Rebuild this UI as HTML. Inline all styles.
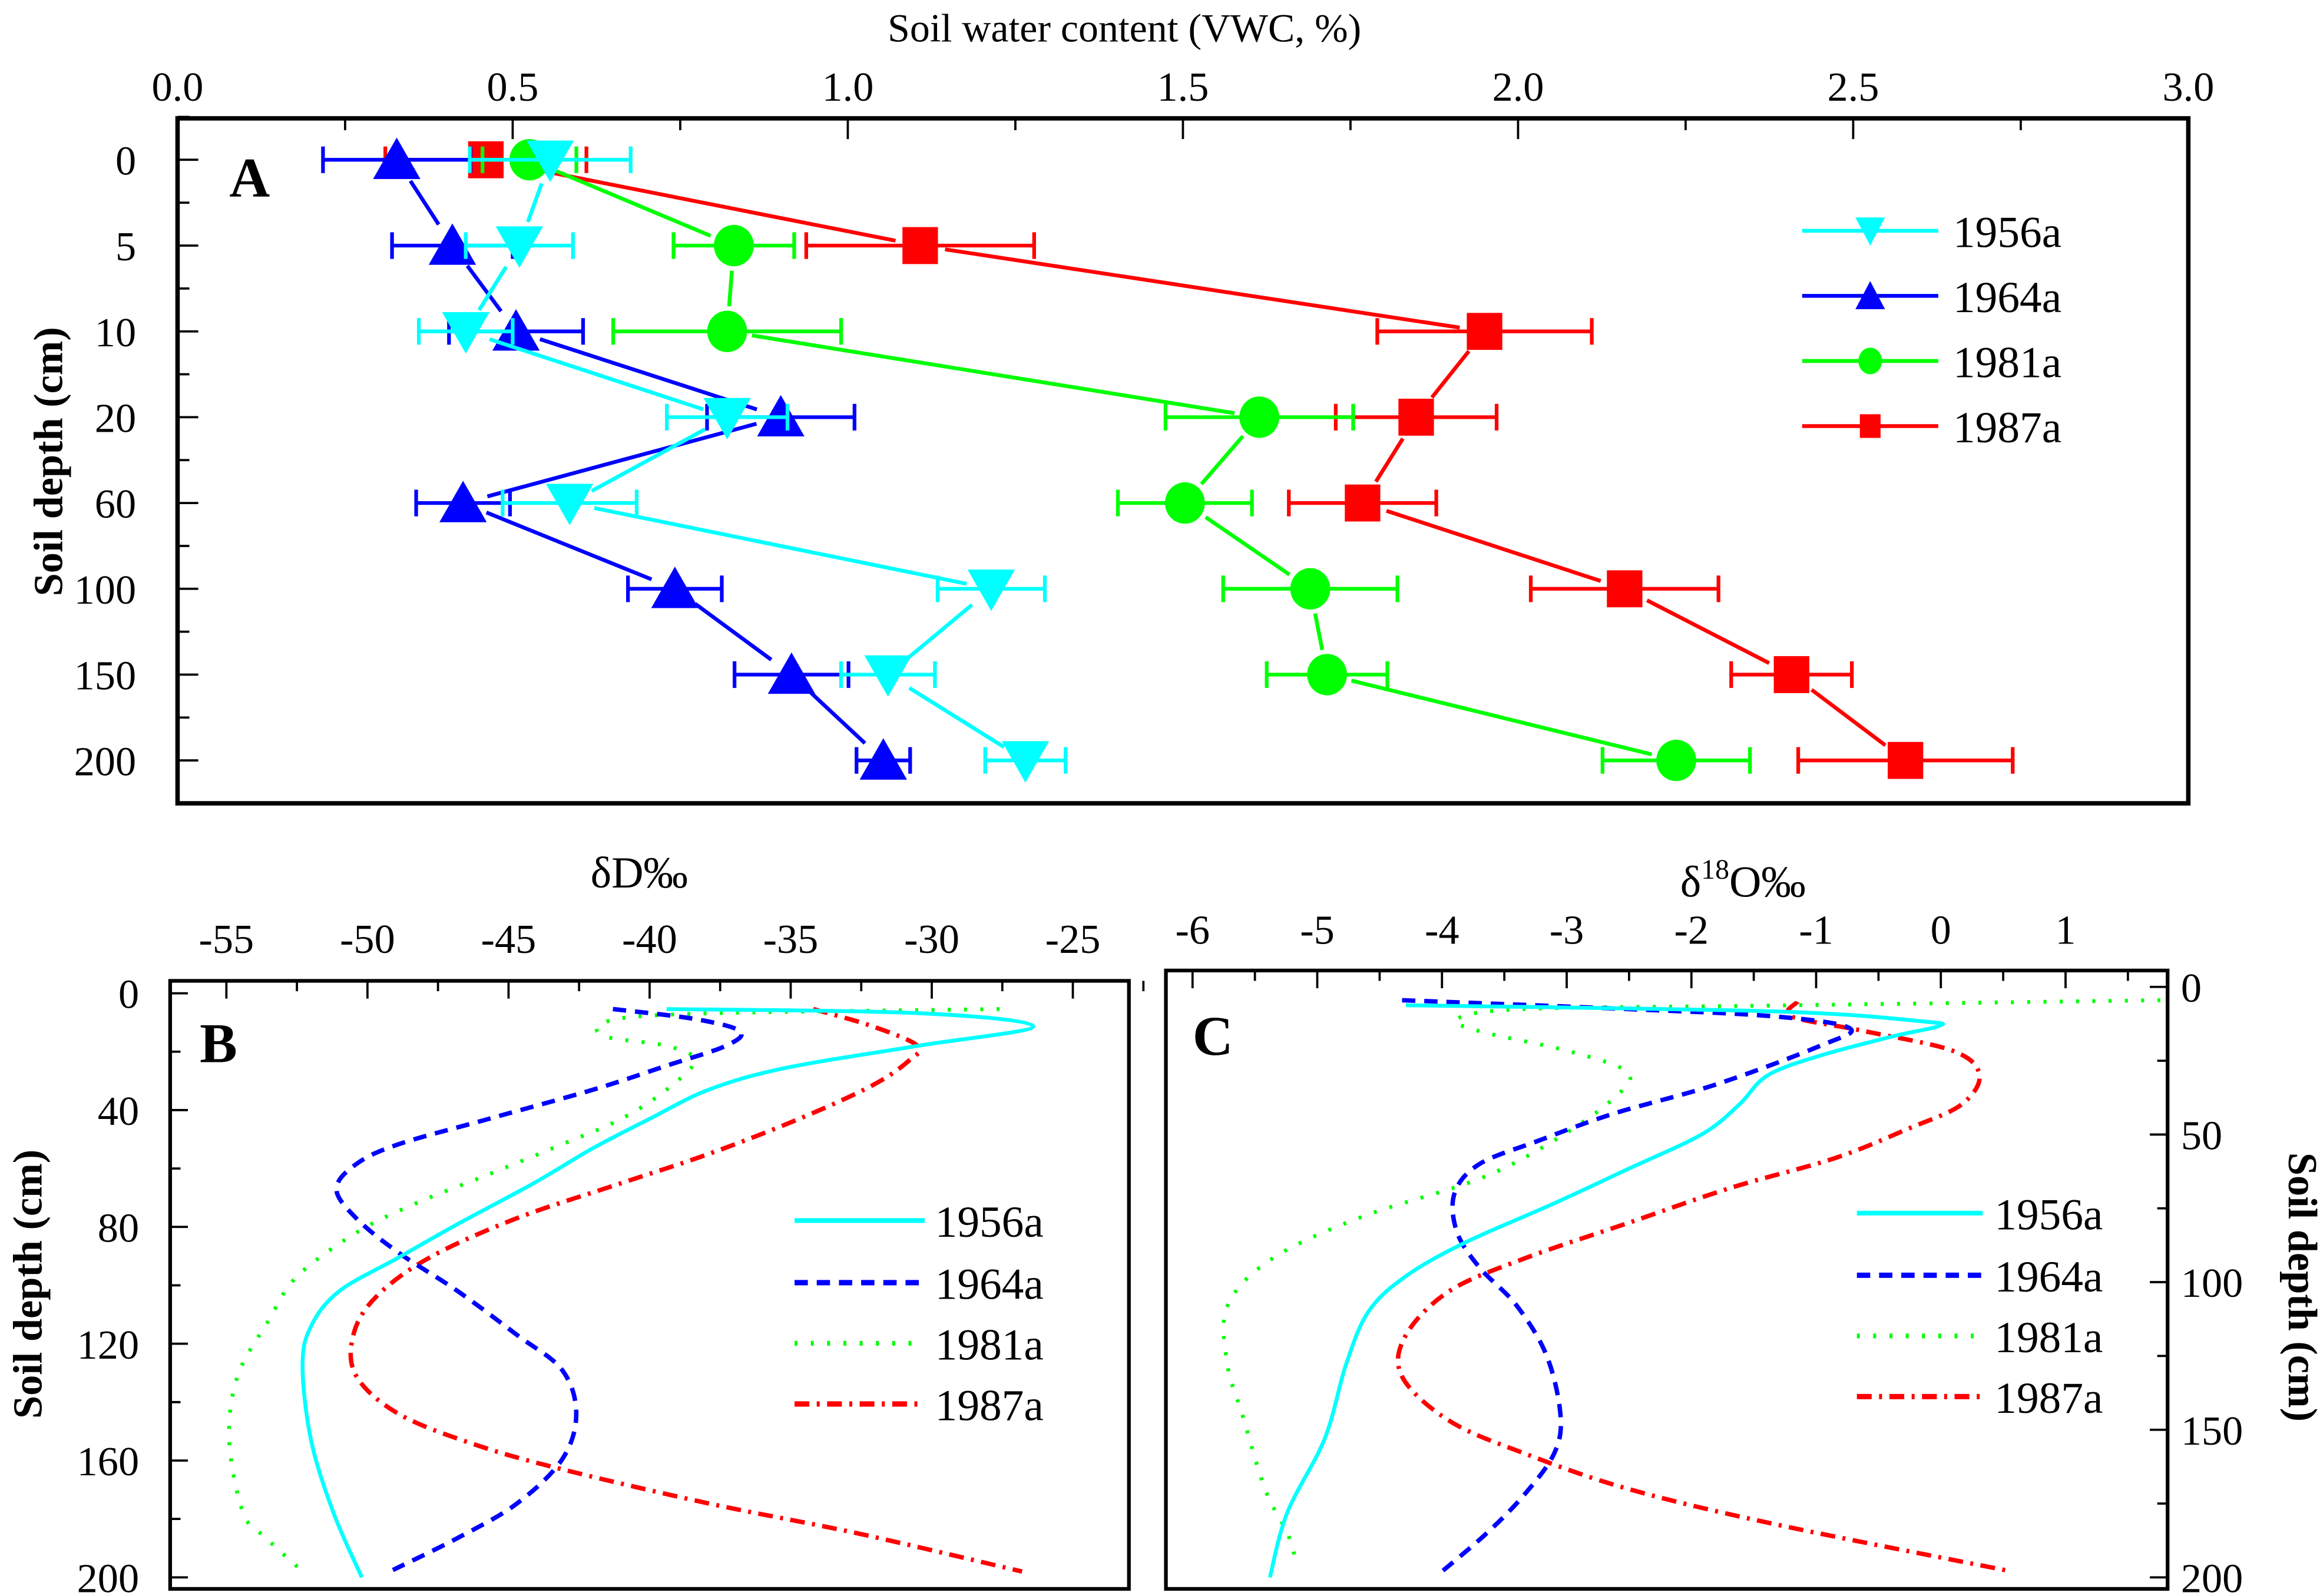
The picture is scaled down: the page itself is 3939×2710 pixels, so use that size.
<!DOCTYPE html>
<html><head><meta charset="utf-8"><style>
html,body{margin:0;padding:0;background:#fff;}
svg{display:block;}
text{font-family:"Liberation Serif",serif;fill:#000;}
</style></head><body>
<svg id="fig" width="3939" height="2710" viewBox="0 0 1568 1078.8" preserveAspectRatio="none" xmlns="http://www.w3.org/2000/svg">
</svg>
<script>
// ---------- Panel A data ----------
const depthCats = ["0","5","10","20","60","100","150","200"];
const vwc1956 = [0.556,0.51,0.43,0.82,0.585,1.214,1.06,1.265];
const err1956 = [0.12,0.08,0.07,0.09,0.1,0.08,0.07,0.06];
const vwc1964 = [0.327,0.41,0.505,0.90,0.426,0.742,0.916,1.053];
const err1964 = [0.11,0.09,0.1,0.11,0.07,0.07,0.085,0.04];
const vwc1981 = [0.525,0.83,0.82,1.614,1.503,1.69,1.715,2.236];
const err1981 = [0.07,0.09,0.17,0.14,0.1,0.13,0.09,0.11];
const vwc1987 = [0.46,1.108,1.95,1.848,1.768,2.159,2.408,2.578];
const err1987 = [0.15,0.17,0.16,0.12,0.11,0.14,0.09,0.16];
const aTicks = ["0.0","0.5","1.0","1.5","2.0","2.5","3.0"];
// ---------- Panel B data (dD, depth cm) ----------
const bDepth1956 = [5.4,6.8,11.3,18,25.6,33,43,53,65,79,90.5,102,114,127.5,153,178,200];
const bVal1956 = [-39.4,-30.5,-26.4,-30.5,-35.2,-37.9,-40,-42,-44.1,-46.8,-48.9,-51,-52,-52.3,-52,-51.2,-50.2];
const bDepth1964 = [5.4,8.8,13,18,24.8,33,43,51.7,58.5,67,77,88.8,102,117,129,144,159.6,174.7,186.5,197.5];
const bVal1964 = [-41.3,-38.4,-36.8,-37.3,-39.4,-42,-45.7,-48.9,-50.4,-51.1,-50.4,-48.9,-46.8,-44.7,-43.1,-42.6,-43.1,-44.7,-46.8,-49.1];
const bDepth1981 = [5.4,7,9.6,14.7,18,23,33,43,51.7,62,72,82,97,112,131,153,178,186.5,198];
const bVal1981 = [-27.6,-38.4,-41.5,-41.6,-39.4,-38.4,-39.4,-41,-43.1,-45.7,-48.3,-50.4,-52.5,-53.5,-54.6,-54.9,-54.4,-53.6,-52.3];
const bDepth1987 = [5.4,11.3,18,23,31.5,43,55,65,77,90.5,104,117,131,144,154.5,163,174.7,185,198];
const bVal1987 = [-34.2,-32.1,-30.5,-30.8,-32.1,-34.7,-37.9,-41,-44.7,-47.8,-49.7,-50.5,-50.4,-48.9,-46.2,-43.1,-37.9,-32.6,-26.8];
const bXTicks = ["-55","-50","-45","-40","-35","-30","-25"];
const bYTicks = ["0","40","80","120","160","200"];
// ---------- Panel C data (d18O, depth cm) ----------
const cDepth1956 = [6.2,8.3,11.7,13.3,16.7,23.3,30,40,50,61.7,73.3,86.7,98,110,128,153,178,200];
const cVal1956 = [-4.29,-1.33,-0.14,-0.02,-0.38,-0.97,-1.39,-1.62,-1.92,-2.51,-3.1,-3.82,-4.29,-4.59,-4.77,-4.94,-5.24,-5.38];
const cDepth1964 = [4.5,7.5,10,14,20,33,43,52,60,70,83,95,108,125,145,158,172,185,198];
const cVal1964 = [-4.32,-2.51,-1.33,-0.73,-0.97,-1.8,-2.63,-3.22,-3.7,-3.9,-3.88,-3.7,-3.4,-3.16,-3.05,-3.1,-3.34,-3.64,-4.0];
const cDepth1981 = [4.5,6.3,7.5,10.8,15,21.7,29,38,52,65,78,92,108,128,145,170,185,193];
const cVal1981 = [1.76,-1.33,-3.34,-3.88,-3.7,-2.99,-2.51,-2.63,-3.1,-3.7,-4.65,-5.36,-5.72,-5.72,-5.6,-5.42,-5.24,-5.18];
const cDepth1987 = [5,10,15,21.7,30,40,48,58,68,80,92,103,118,132,147,158,170,182,198];
const cVal1987 = [-1.15,-1.2,-0.61,0.1,0.31,0.16,-0.26,-0.85,-1.68,-2.51,-3.34,-3.94,-4.29,-4.32,-3.94,-3.34,-2.51,-1.33,0.57];
const cXTicks = ["-6","-5","-4","-3","-2","-1","0","1"];
const cYTicks = ["0","50","100","150","200"];

const NS="http://www.w3.org/2000/svg";
const svg=document.getElementById('fig');
function mk(tag,attrs,parent,txt){const e=document.createElementNS(NS,tag);for(const k in attrs)e.setAttribute(k,attrs[k]);if(txt!==undefined)e.textContent=txt;(parent||svg).appendChild(e);return e;}
function grp(name){const g=mk('g',{});return g;}

const CY="#00ffff",BL="#0000ff",GR="#00ff00",RD="#ff0000";
const TF=28;

// ===== Panel A =====
const A={l:120,r:1479,t:80,b:543};
const ax=v=>A.l+v*453;
const ay=i=>108+i*58;
const gA=grp('panel-a');
mk('text',{x:760,y:28,'font-size':27,'text-anchor':'middle'},gA,'Soil water content (VWC, %)');
aTicks.forEach((t,i)=>{const x=ax(parseFloat(t));const e=mk('text',{x:x,y:68,'font-size':TF,'text-anchor':'middle'},gA,t);
 mk('line',{x1:x,y1:A.t,x2:x,y2:A.t+14,stroke:'#000','stroke-width':1.5},gA);
 if(i<aTicks.length-1){const xm=ax(parseFloat(t)+0.25);mk('line',{x1:xm,y1:A.t,x2:xm,y2:A.t+8,stroke:'#000','stroke-width':1.5},gA);}
});
depthCats.forEach((c,i)=>{const y=ay(i);const e=mk('text',{x:92,y:y+10,'font-size':TF,'text-anchor':'end'},gA,c);
 mk('line',{x1:A.l,y1:y,x2:A.l+14,y2:y,stroke:'#000','stroke-width':1.5},gA);
 const ym=y+29;if(ym<A.b)mk('line',{x1:A.l,y1:ym,x2:A.l+8,y2:ym,stroke:'#000','stroke-width':1.5},gA);
 const ym2=y-29;if(i==0)mk('line',{x1:A.l,y1:ym2,x2:A.l+8,y2:ym2,stroke:'#000','stroke-width':1.5},gA);
});
const ytA=mk('text',{x:0,y:0,'font-size':28,'font-weight':'bold','text-anchor':'middle',transform:'translate(42,312) rotate(-90)','font-family':'Liberation Sans, sans-serif'},gA,'Soil depth (cm)');

mk('rect',{x:A.l,y:A.t,width:A.r-A.l,height:A.b-A.t,fill:'none',stroke:'#000','stroke-width':3},gA);
mk('text',{x:155,y:133,'font-size':38,'font-weight':'bold'},gA,'A');

function marker(g,type,x,y,col){
 let e;
 if(type==='down') e=mk('polygon',{points:`${x-16},${y-13} ${x+16},${y-13} ${x},${y+15}`,fill:col},g);
 else if(type==='up') e=mk('polygon',{points:`${x-16},${y+13} ${x+16},${y+13} ${x},${y-15}`,fill:col},g);
 else if(type==='circle') e=mk('ellipse',{cx:x,cy:y,rx:13.5,ry:14,fill:col},g);
 else e=mk('rect',{x:x-12,y:y-12.5,width:24,height:25,fill:col},g);
 return e;
}
function seriesA(name,vals,errs,col,type){
 const g=grp('series-'+name);
 vals.forEach((v,i)=>{const y=ay(i);
  const lo=ax(v-errs[i]),hi=ax(v+errs[i]);
  const eb=mk('path',{d:`M${lo},${y}H${hi}M${lo},${y-9}V${y+9}M${hi},${y-9}V${y+9}`,stroke:col,'stroke-width':2.5,fill:'none'},g);
  
  
 });
 for(let i=0;i<vals.length-1;i++){
  const x1=ax(vals[i]),y1=ay(i),x2=ax(vals[i+1]),y2=ay(i+1);
  const dx=x2-x1,dy=y2-y1,L=Math.hypot(dx,dy),gp=17;
  if(L>2*gp){const ln=mk('line',{x1:x1+dx/L*gp,y1:y1+dy/L*gp,x2:x2-dx/L*gp,y2:y2-dy/L*gp,stroke:col,'stroke-width':2.6},g);
   
   }
 }
 vals.forEach((v,i)=>{const m=marker(g,type,ax(v),ay(i),col);
  
  });
}
seriesA('1987a',vwc1987,err1987,RD,'square');
seriesA('1981a',vwc1981,err1981,GR,'circle');
seriesA('1964a',vwc1964,err1964,BL,'up');
seriesA('1956a',vwc1956,err1956,CY,'down');
// legend A
const legA=[['1956a',CY,'down'],['1964a',BL,'up'],['1981a',GR,'circle'],['1987a',RD,'square']];
const gLA=grp('legend-a');
legA.forEach((L,i)=>{const y=156+i*44;
 const le=grp('legend-entry-'+L[0]);gLA.appendChild(le);
 mk('line',{x1:1218,y1:y,x2:1310,y2:y,stroke:L[1],'stroke-width':2.6},le);
 const s=L[2];const x=1264;
 if(s==='down')mk('polygon',{points:`${x-10},${y-9} ${x+10},${y-9} ${x},${y+10}`,fill:L[1]},le);
 else if(s==='up')mk('polygon',{points:`${x-10},${y+9} ${x+10},${y+9} ${x},${y-10}`,fill:L[1]},le);
 else if(s==='circle')mk('ellipse',{cx:x,cy:y,rx:8,ry:9,fill:L[1]},le);
 else mk('rect',{x:x-7,y:y-8,width:14,height:16,fill:L[1]},le);
 mk('text',{x:1320,y:y+11,'font-size':30},le,L[0]);
});

// ===== Panels B & C =====
function drawLine(g,name,vals,depths,fx,fy,col,dash,w){
 const pts=vals.map((v,i)=>[fx(v),fy(depths[i])]);
 let d=`M${pts[0][0]},${pts[0][1]}`;
 for(let i=0;i<pts.length-1;i++){
  const p0=pts[Math.max(0,i-1)],p1=pts[i],p2=pts[i+1],p3=pts[Math.min(pts.length-1,i+2)];
  const c1=[p1[0]+(p2[0]-p0[0])/6,p1[1]+(p2[1]-p0[1])/6];
  const c2=[p2[0]-(p3[0]-p1[0])/6,p2[1]-(p3[1]-p1[1])/6];
  d+=`C${c1[0]},${c1[1]} ${c2[0]},${c2[1]} ${p2[0]},${p2[1]}`;
 }
 const p=mk('path',{d:d,fill:'none',stroke:col,'stroke-width':w,'stroke-dasharray':dash},g);
 
 
}
const DASH={'1956a':'none','1964a':'9,6','1981a':'2,9','1987a':'10,5,2,5'};
const WID={'1956a':2.6,'1964a':3,'1981a':2.6,'1987a':3};

// B
const B={l:115,r:763,t:663,b:1074};
const bx=v=>153+(v+55)*19.07;
const by=d=>671.4+d*1.974;
const gB=grp('panel-b');
mk('text',{x:432,y:600,'font-size':30,'text-anchor':'middle'},gB,'δD‰');
bXTicks.forEach((t,i)=>{const x=bx(parseFloat(t));const e=mk('text',{x:x,y:644,'font-size':TF,'text-anchor':'middle'},gB,t);
 mk('line',{x1:x,y1:B.t,x2:x,y2:B.t+12,stroke:'#000','stroke-width':1.5},gB);
 const xm=bx(parseFloat(t)-2.5);if(xm>B.l)mk('line',{x1:xm,y1:B.t,x2:xm,y2:B.t+7,stroke:'#000','stroke-width':1.5},gB);
 if(i==bXTicks.length-1){const xm2=bx(parseFloat(t)+2.5);mk('line',{x1:xm2,y1:B.t,x2:xm2,y2:B.t+7,stroke:'#000','stroke-width':1.5},gB);}
});
bYTicks.forEach((t,i)=>{const y=by(parseFloat(t));const e=mk('text',{x:94,y:y+10,'font-size':TF,'text-anchor':'end'},gB,t);
 mk('line',{x1:B.l,y1:y,x2:B.l+12,y2:y,stroke:'#000','stroke-width':1.5},gB);
 if(i<bYTicks.length-1){const ym=by(parseFloat(t)+20);mk('line',{x1:B.l,y1:ym,x2:B.l+7,y2:ym,stroke:'#000','stroke-width':1.5},gB);}
});
mk('text',{x:0,y:0,'font-size':28,'font-weight':'bold','text-anchor':'middle',transform:'translate(28,868) rotate(-90)','font-family':'Liberation Sans, sans-serif'},gB,'Soil depth (cm)');
drawLine(gB,'b-1987a',bVal1987,bDepth1987,bx,by,RD,DASH['1987a'],WID['1987a']);
drawLine(gB,'b-1981a',bVal1981,bDepth1981,bx,by,GR,DASH['1981a'],WID['1981a']);
drawLine(gB,'b-1964a',bVal1964,bDepth1964,bx,by,BL,DASH['1964a'],WID['1964a']);
drawLine(gB,'b-1956a',bVal1956,bDepth1956,bx,by,CY,DASH['1956a'],WID['1956a']);
mk('rect',{x:B.l,y:B.t,width:B.r-B.l,height:B.b-B.t,fill:'none',stroke:'#000','stroke-width':2.5},gB);
mk('text',{x:135,y:718,'font-size':38,'font-weight':'bold'},gB,'B');

// C
const C={l:788,r:1465,t:656,b:1074};
const cx=v=>806+(v+6)*84.29;
const cy=d=>667.1+d*1.9955;
const gC=grp('panel-c');
const tc=mk('text',{x:1178,y:606,'font-size':30,'text-anchor':'middle'},gC);

mk('tspan',{},tc,'δ');mk('tspan',{dy:-12,'font-size':19},tc,'18');mk('tspan',{dy:12},tc,'O‰');
cXTicks.forEach((t,i)=>{const x=cx(parseFloat(t));const e=mk('text',{x:x,y:638,'font-size':TF,'text-anchor':'middle'},gC,t);
 mk('line',{x1:x,y1:C.t,x2:x,y2:C.t+12,stroke:'#000','stroke-width':1.5},gC);
 const xm=cx(parseFloat(t)+0.5);if(xm<C.r)mk('line',{x1:xm,y1:C.t,x2:xm,y2:C.t+7,stroke:'#000','stroke-width':1.5},gC);
});
cYTicks.forEach((t,i)=>{const y=cy(parseFloat(t));const e=mk('text',{x:1474,y:y+10,'font-size':TF,'text-anchor':'start'},gC,t);
 mk('line',{x1:C.r-12,y1:y,x2:C.r,y2:y,stroke:'#000','stroke-width':1.5},gC);
 if(i<cYTicks.length-1){const ym=cy(parseFloat(t)+25);mk('line',{x1:C.r-7,y1:ym,x2:C.r,y2:ym,stroke:'#000','stroke-width':1.5},gC);}
});
mk('text',{x:0,y:0,'font-size':28,'font-weight':'bold','text-anchor':'middle',transform:'translate(1547,870) rotate(90)','font-family':'Liberation Sans, sans-serif'},gC,'Soil depth (cm)');
const clip=mk('clipPath',{id:'clipC'},svg);mk('rect',{x:C.l,y:C.t,width:C.r-C.l,height:C.b-C.t},clip);
const gCl=mk('g',{'clip-path':'url(#clipC)'},gC);
drawLine(gCl,'c-1987a',cVal1987,cDepth1987,cx,cy,RD,DASH['1987a'],WID['1987a']);
drawLine(gCl,'c-1981a',cVal1981,cDepth1981,cx,cy,GR,DASH['1981a'],WID['1981a']);
drawLine(gCl,'c-1964a',cVal1964,cDepth1964,cx,cy,BL,DASH['1964a'],WID['1964a']);
drawLine(gCl,'c-1956a',cVal1956,cDepth1956,cx,cy,CY,DASH['1956a'],WID['1956a']);
mk('rect',{x:C.l,y:C.t,width:C.r-C.l,height:C.b-C.t,fill:'none',stroke:'#000','stroke-width':2.5},gC);
mk('text',{x:806,y:713,'font-size':38,'font-weight':'bold'},gC,'C');

// legends B, C
const legNames=['1956a','1964a','1981a','1987a'],legCols=[CY,BL,GR,RD];
function legend(g,name,x1,x2,tx,ys){
 const gl=grp(name);g.appendChild(gl);
 legNames.forEach((n,i)=>{const le=grp('legend-entry-'+n);gl.appendChild(le);
  mk('line',{x1:x1,y1:ys[i],x2:x2,y2:ys[i],stroke:legCols[i],'stroke-width':WID[n]+0.6,'stroke-dasharray':DASH[n]},le);
  mk('text',{x:tx,y:ys[i]+11,'font-size':30},le,n);});
}
legend(gB,'legend-b',537,625,632,[825,867,908,949]);
legend(gC,'legend-c',1255,1340,1348,[820,862,903,944]);
</script>
</body></html>
